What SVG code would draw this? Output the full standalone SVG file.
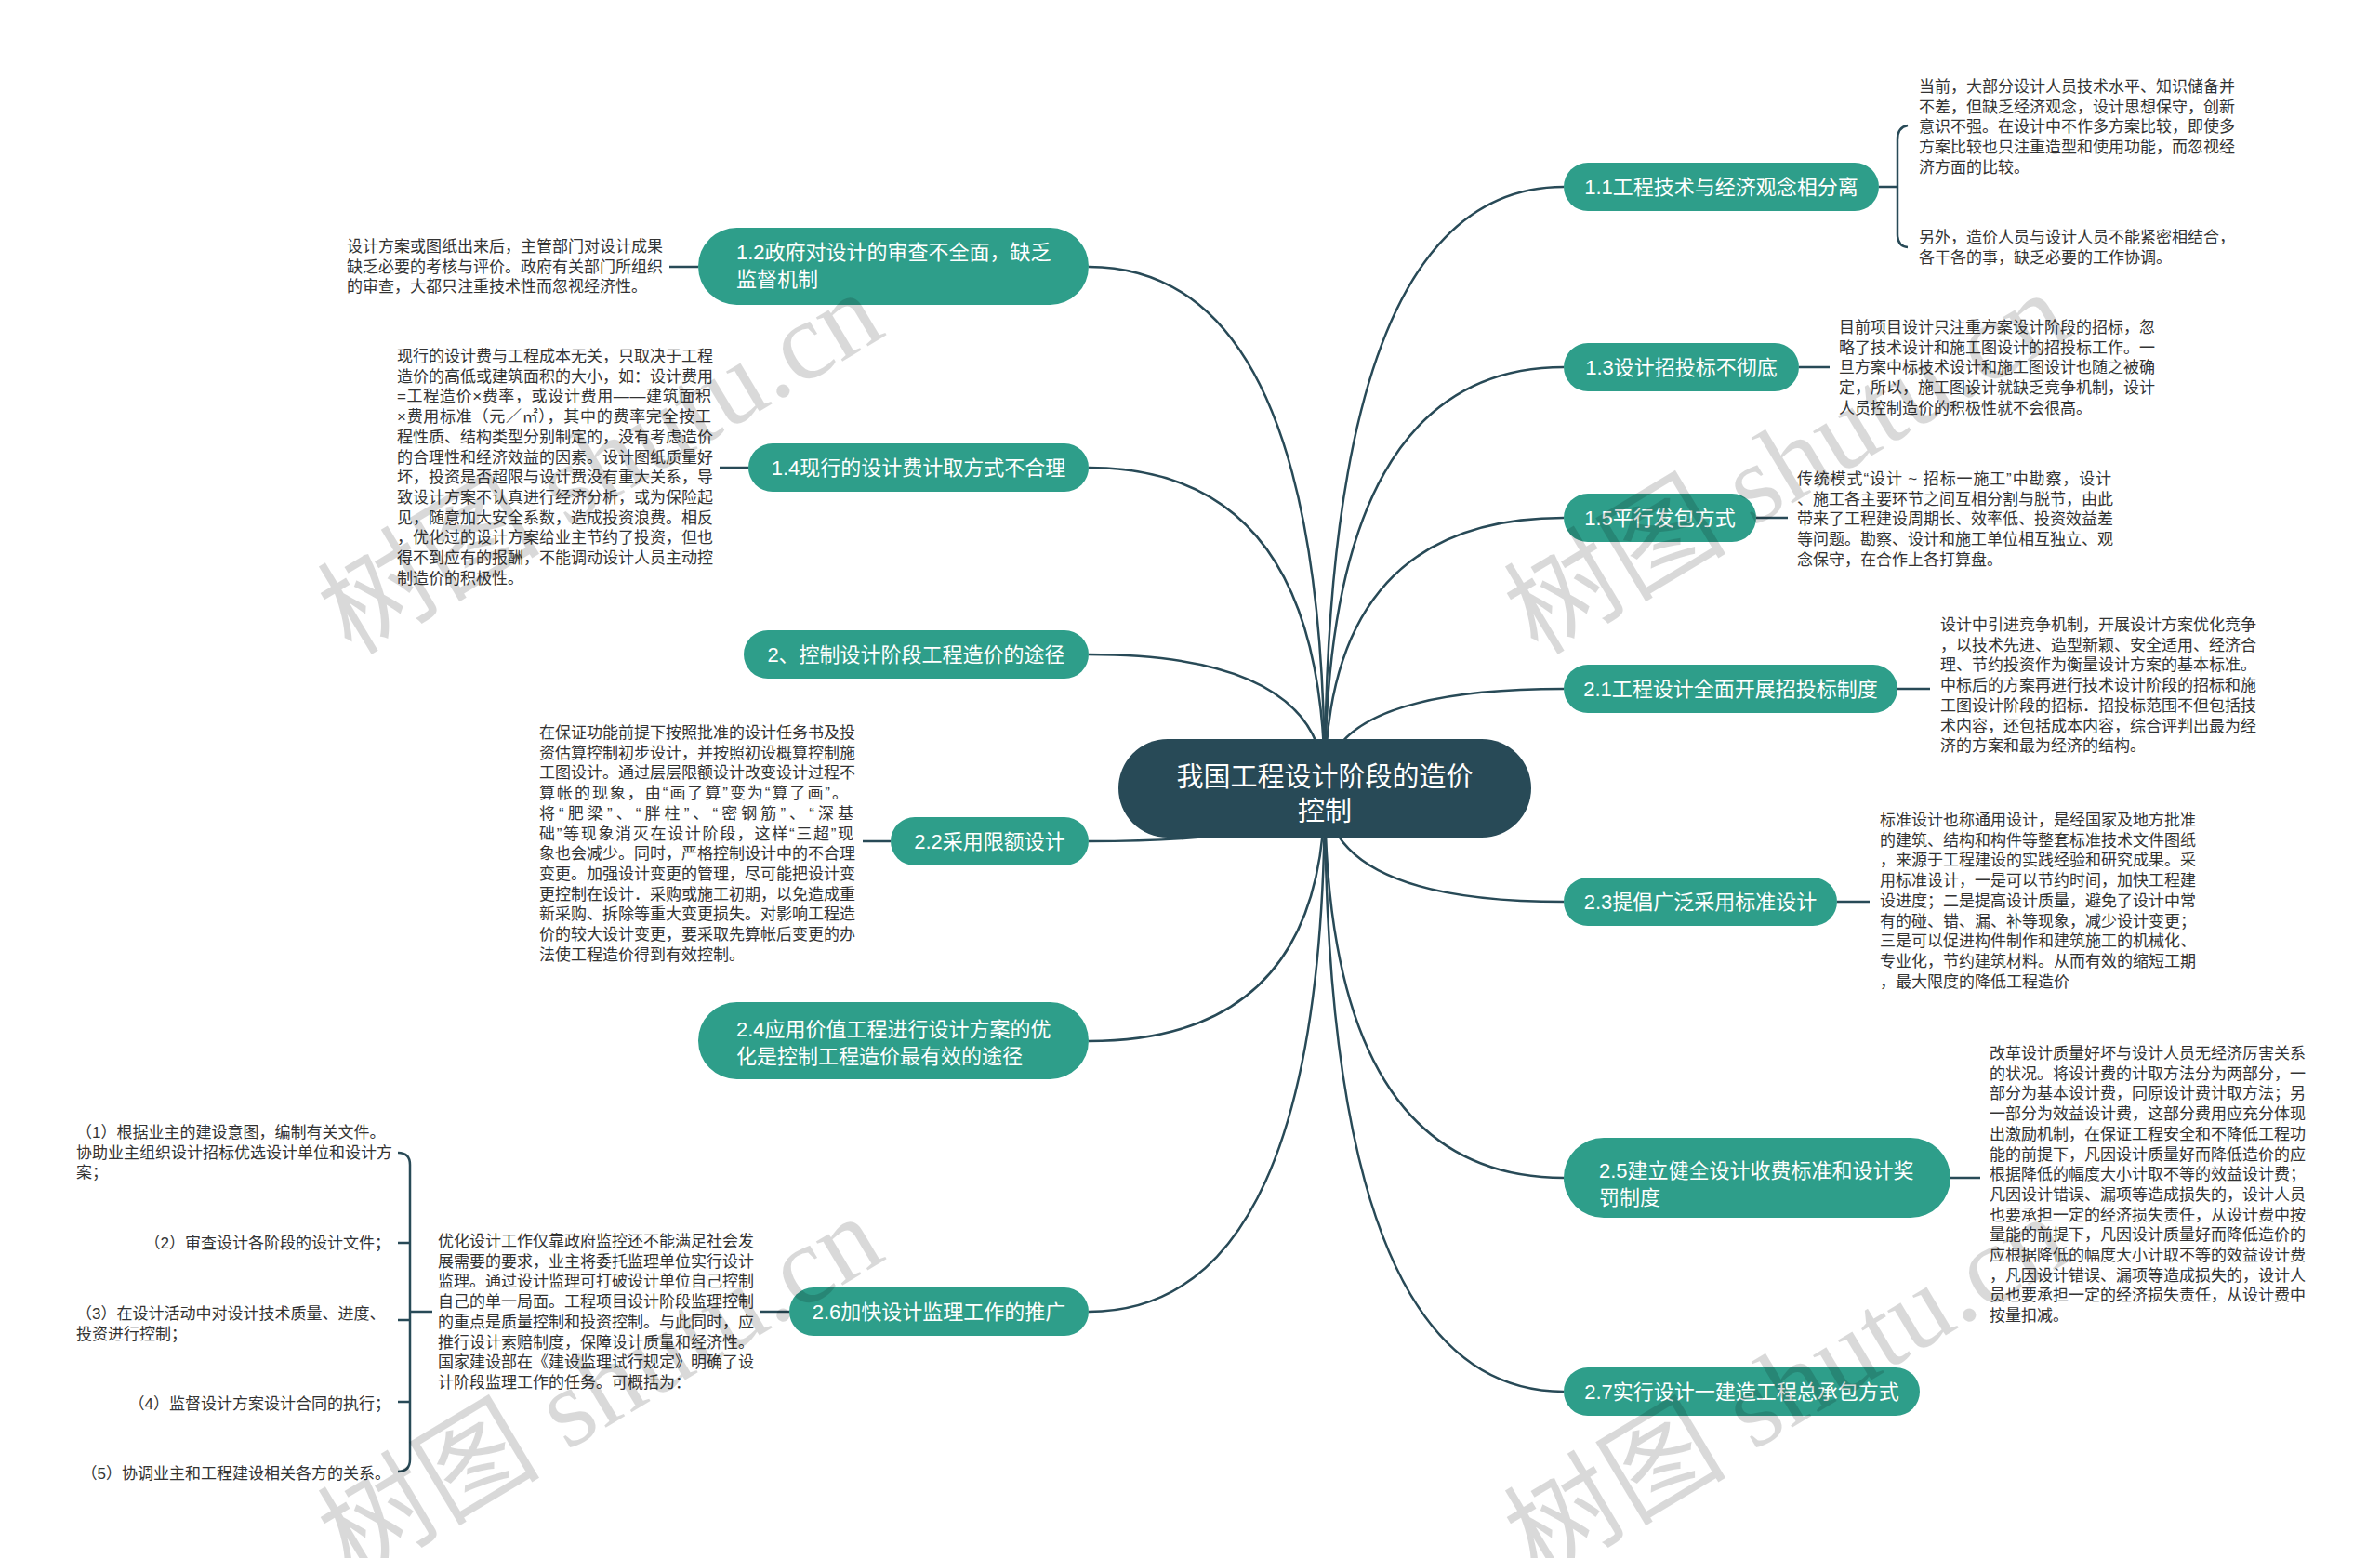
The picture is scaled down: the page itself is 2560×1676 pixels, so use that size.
<svg xmlns="http://www.w3.org/2000/svg" width="2560" height="1676" viewBox="0 0 2560 1676">
<style>
text{font-family:'Liberation Sans','Noto Sans CJK SC',sans-serif}
.conn{fill:none;stroke:#284a57;stroke-width:2.5}
.br rect{fill:#2e9e8a}
.br text{fill:#fff;font-size:22px}
.c{text-anchor:middle}
.leaf{fill:#333;font-size:17px}
.root rect{fill:#284a57}
.root text{fill:#fff;font-size:29px;text-anchor:middle}
.wm{font-family:'Liberation Serif','Noto Sans CJK SC',serif;font-size:120px;fill:#000;fill-opacity:0.15}
</style>
<rect width="2560" height="1676" fill="#fff"/>
<g id="connectors">
<path class="conn" d="M1425,848 Q1425,201 1682,201"/>
<path class="conn" d="M1425,848 Q1425,395 1682,395"/>
<path class="conn" d="M1425,848 Q1425,557 1682,557"/>
<path class="conn" d="M1425,848 Q1425,741 1682,741"/>
<path class="conn" d="M1425,848 Q1425,970 1682,970"/>
<path class="conn" d="M1425,848 Q1425,1267 1682,1267"/>
<path class="conn" d="M1425,848 Q1425,1497 1682,1497"/>
<path class="conn" d="M1425,848 Q1425,287 1171,287"/>
<path class="conn" d="M1425,848 Q1425,503 1171,503"/>
<path class="conn" d="M1425,848 Q1425,704 1171,704"/>
<path class="conn" d="M1425,848 Q1425,905 1171,905"/>
<path class="conn" d="M1425,848 Q1425,1120 1171,1120"/>
<path class="conn" d="M1425,848 Q1425,1411 1171,1411"/>
<path class="conn" d="M2021,201 H2041 M2052,135 Q2041,137 2041,150 V252 Q2041,265 2052,266"/>
<path class="conn" d="M1935,395 H1968"/>
<path class="conn" d="M1889,557 H1923"/>
<path class="conn" d="M2041,741 H2076"/>
<path class="conn" d="M1976,970 H2011"/>
<path class="conn" d="M2098,1267 H2130"/>
<path class="conn" d="M751,287 H720"/>
<path class="conn" d="M805,503 H774"/>
<path class="conn" d="M958,905 H928"/>
<path class="conn" d="M849,1411 H818"/>
<path class="conn" d="M465,1411 H441 M428,1240 Q441,1240 441,1253 V1570 Q441,1583 428,1583 M428,1337 H441 M428,1420 H441 M428,1508 H441"/>
</g>
<g id="root" class="root">
<rect x="1203" y="795" width="444" height="106" rx="53"/>
<text x="1425" y="846">我国工程设计阶段的造价</text>
<text x="1425" y="883">控制</text>
</g>
<g id="n11" class="br"><rect x="1682" y="175" width="339" height="52" rx="26"/><text class="c" x="1851.5" y="209">1.1工程技术与经济观念相分离</text></g>
<g id="n13" class="br"><rect x="1682" y="369" width="253" height="52" rx="26"/><text class="c" x="1808.5" y="403">1.3设计招投标不彻底</text></g>
<g id="n15" class="br"><rect x="1682" y="531" width="207" height="52" rx="26"/><text class="c" x="1785.5" y="565">1.5平行发包方式</text></g>
<g id="n21" class="br"><rect x="1682" y="715" width="359" height="52" rx="26"/><text class="c" x="1861.5" y="749">2.1工程设计全面开展招投标制度</text></g>
<g id="n23" class="br"><rect x="1682" y="944" width="294" height="52" rx="26"/><text class="c" x="1829" y="978">2.3提倡广泛采用标准设计</text></g>
<g id="n25" class="br"><rect x="1682" y="1224" width="416" height="86" rx="43"/><text x="1720" y="1267">2.5建立健全设计收费标准和设计奖</text><text x="1720" y="1296">罚制度</text></g>
<g id="n27" class="br"><rect x="1682" y="1471" width="383" height="52" rx="26"/><text class="c" x="1873.5" y="1505">2.7实行设计一建造工程总承包方式</text></g>
<g id="n12" class="br"><rect x="751" y="245" width="420" height="83" rx="41.5"/><text x="792" y="279">1.2政府对设计的审查不全面，缺乏</text><text x="792" y="308">监督机制</text></g>
<g id="n14" class="br"><rect x="805" y="477" width="366" height="52" rx="26"/><text class="c" x="988" y="511">1.4现行的设计费计取方式不合理</text></g>
<g id="n2" class="br"><rect x="800" y="678" width="371" height="52" rx="26"/><text class="c" x="985.5" y="712">2、控制设计阶段工程造价的途径</text></g>
<g id="n22" class="br"><rect x="958" y="879" width="213" height="52" rx="26"/><text class="c" x="1064.5" y="913">2.2采用限额设计</text></g>
<g id="n24" class="br"><rect x="751" y="1078" width="420" height="83" rx="41.5"/><text x="792" y="1115">2.4应用价值工程进行设计方案的优</text><text x="792" y="1144">化是控制工程造价最有效的途径</text></g>
<g id="n26" class="br"><rect x="849" y="1385" width="322" height="52" rx="26"/><text class="c" x="1010" y="1419">2.6加快设计监理工作的推广</text></g>
<g id="t11a"><text class="leaf"><tspan x="2064" y="99">当前，大部分设计人员技术水平、知识储备并</tspan><tspan x="2064" y="120.7">不差，但缺乏经济观念，设计思想保守，创新</tspan><tspan x="2064" y="142.4">意识不强。在设计中不作多方案比较，即使多</tspan><tspan x="2064" y="164.1">方案比较也只注重造型和使用功能，而忽视经</tspan><tspan x="2064" y="185.8">济方面的比较。</tspan></text></g>
<g id="t11b"><text class="leaf"><tspan x="2064" y="261">另外，造价人员与设计人员不能紧密相结合，</tspan><tspan x="2064" y="282.7">各干各的事，缺乏必要的工作协调。</tspan></text></g>
<g id="t13"><text class="leaf"><tspan x="1978" y="358">目前项目设计只注重方案设计阶段的招标，忽</tspan><tspan x="1978" y="379.7">略了技术设计和施工图设计的招投标工作。一</tspan><tspan x="1978" y="401.4">旦方案中标技术设计和施工图设计也随之被确</tspan><tspan x="1978" y="423.1">定，所以，施工图设计就缺乏竞争机制，设计</tspan><tspan x="1978" y="444.8">人员控制造价的积极性就不会很高。</tspan></text></g>
<g id="t15"><text class="leaf"><tspan x="1933" y="521" textLength="338" lengthAdjust="spacing">传统模式“设计 ~ 招标一施工”中勘察，设计</tspan><tspan x="1933" y="542.7">、施工各主要环节之间互相分割与脱节，由此</tspan><tspan x="1933" y="564.4">带来了工程建设周期长、效率低、投资效益差</tspan><tspan x="1933" y="586.1">等问题。勘察、设计和施工单位相互独立、观</tspan><tspan x="1933" y="607.8">念保守，在合作上各打算盘。</tspan></text></g>
<g id="t21"><text class="leaf"><tspan x="2087" y="678">设计中引进竞争机制，开展设计方案优化竞争</tspan><tspan x="2087" y="699.7">，以技术先进、造型新颖、安全适用、经济合</tspan><tspan x="2087" y="721.4">理、节约投资作为衡量设计方案的基本标准。</tspan><tspan x="2087" y="743.1">中标后的方案再进行技术设计阶段的招标和施</tspan><tspan x="2087" y="764.8">工图设计阶段的招标．招投标范围不但包括技</tspan><tspan x="2087" y="786.5">术内容，还包括成本内容，综合评判出最为经</tspan><tspan x="2087" y="808.2">济的方案和最为经济的结构。</tspan></text></g>
<g id="t23"><text class="leaf"><tspan x="2022" y="888">标准设计也称通用设计，是经国家及地方批准</tspan><tspan x="2022" y="909.7">的建筑、结构和构件等整套标准技术文件图纸</tspan><tspan x="2022" y="931.4">，来源于工程建设的实践经验和研究成果。采</tspan><tspan x="2022" y="953.1">用标准设计，一是可以节约时间，加快工程建</tspan><tspan x="2022" y="974.8">设进度；二是提高设计质量，避免了设计中常</tspan><tspan x="2022" y="996.5">有的碰、错、漏、补等现象，减少设计变更；</tspan><tspan x="2022" y="1018.2">三是可以促进构件制作和建筑施工的机械化、</tspan><tspan x="2022" y="1039.9">专业化，节约建筑材料。从而有效的缩短工期</tspan><tspan x="2022" y="1061.6">，最大限度的降低工程造价</tspan></text></g>
<g id="t25"><text class="leaf"><tspan x="2140" y="1139">改革设计质量好坏与设计人员无经济厉害关系</tspan><tspan x="2140" y="1160.7">的状况。将设计费的计取方法分为两部分，一</tspan><tspan x="2140" y="1182.4">部分为基本设计费，同原设计费计取方法；另</tspan><tspan x="2140" y="1204.1">一部分为效益设计费，这部分费用应充分体现</tspan><tspan x="2140" y="1225.8">出激励机制，在保证工程安全和不降低工程功</tspan><tspan x="2140" y="1247.5">能的前提下，凡因设计质量好而降低造价的应</tspan><tspan x="2140" y="1269.2">根据降低的幅度大小计取不等的效益设计费；</tspan><tspan x="2140" y="1290.9">凡因设计错误、漏项等造成损失的，设计人员</tspan><tspan x="2140" y="1312.6">也要承担一定的经济损失责任，从设计费中按</tspan><tspan x="2140" y="1334.3">量能的前提下，凡因设计质量好而降低造价的</tspan><tspan x="2140" y="1356">应根据降低的幅度大小计取不等的效益设计费</tspan><tspan x="2140" y="1377.7">，凡因设计错误、漏项等造成损失的，设计人</tspan><tspan x="2140" y="1399.4">员也要承担一定的经济损失责任，从设计费中</tspan><tspan x="2140" y="1421.1">按量扣减。</tspan></text></g>
<g id="t12"><text class="leaf"><tspan x="373" y="271">设计方案或图纸出来后，主管部门对设计成果</tspan><tspan x="373" y="292.7">缺乏必要的考核与评价。政府有关部门所组织</tspan><tspan x="373" y="314.4">的审查，大都只注重技术性而忽视经济性。</tspan></text></g>
<g id="t14"><text class="leaf"><tspan x="427" y="389">现行的设计费与工程成本无关，只取决于工程</tspan><tspan x="427" y="410.7">造价的高低或建筑面积的大小，如：设计费用</tspan><tspan x="427" y="432.4" textLength="338" lengthAdjust="spacing">=工程造价×费率，或设计费用——建筑面积</tspan><tspan x="427" y="454.1" textLength="338" lengthAdjust="spacing">×费用标准（元／㎡），其中的费率完全按工</tspan><tspan x="427" y="475.8">程性质、结构类型分别制定的，没有考虑造价</tspan><tspan x="427" y="497.5">的合理性和经济效益的因素。设计图纸质量好</tspan><tspan x="427" y="519.2">坏，投资是否超限与设计费没有重大关系，导</tspan><tspan x="427" y="540.9">致设计方案不认真进行经济分析，或为保险起</tspan><tspan x="427" y="562.6">见，随意加大安全系数，造成投资浪费。相反</tspan><tspan x="427" y="584.3">，优化过的设计方案给业主节约了投资，但也</tspan><tspan x="427" y="606">得不到应有的报酬，不能调动设计人员主动控</tspan><tspan x="427" y="627.7">制造价的积极性。</tspan></text></g>
<g id="t22"><text class="leaf"><tspan x="580" y="794">在保证功能前提下按照批准的设计任务书及投</tspan><tspan x="580" y="815.7">资估算控制初步设计，并按照初设概算控制施</tspan><tspan x="580" y="837.4">工图设计。通过层层限额设计改变设计过程不</tspan><tspan x="580" y="859.1" textLength="332" lengthAdjust="spacing">算帐的现象，由“画了算”变为“算了画”。</tspan><tspan x="580" y="880.8" textLength="338" lengthAdjust="spacing">将“肥梁”、“胖柱”、“密钢筋”、“深基</tspan><tspan x="580" y="902.5" textLength="338" lengthAdjust="spacing">础”等现象消灭在设计阶段，这样“三超”现</tspan><tspan x="580" y="924.2">象也会减少。同时，严格控制设计中的不合理</tspan><tspan x="580" y="945.9">变更。加强设计变更的管理，尽可能把设计变</tspan><tspan x="580" y="967.6">更控制在设计．采购或施工初期，以免造成重</tspan><tspan x="580" y="989.3">新采购、拆除等重大变更损失。对影响工程造</tspan><tspan x="580" y="1011">价的较大设计变更，要采取先算帐后变更的办</tspan><tspan x="580" y="1032.7">法使工程造价得到有效控制。</tspan></text></g>
<g id="t26"><text class="leaf"><tspan x="471" y="1341">优化设计工作仅靠政府监控还不能满足社会发</tspan><tspan x="471" y="1362.7">展需要的要求，业主将委托监理单位实行设计</tspan><tspan x="471" y="1384.4">监理。通过设计监理可打破设计单位自己控制</tspan><tspan x="471" y="1406.1">自己的单一局面。工程项目设计阶段监理控制</tspan><tspan x="471" y="1427.8">的重点是质量控制和投资控制。与此同时，应</tspan><tspan x="471" y="1449.5">推行设计索赔制度，保障设计质量和经济性。</tspan><tspan x="471" y="1471.2">国家建设部在《建设监理试行规定》明确了设</tspan><tspan x="471" y="1492.9">计阶段监理工作的任务。可概括为：</tspan></text></g>
<g id="s1"><text class="leaf"><tspan x="82" y="1224">（1）根据业主的建设意图，编制有关文件。</tspan><tspan x="82" y="1245.7">协助业主组织设计招标优选设计单位和设计方</tspan><tspan x="82" y="1267.4">案；</tspan></text></g>
<g id="s2"><text class="leaf" text-anchor="end" x="420" y="1343">（2）审查设计各阶段的设计文件；</text></g>
<g id="s3"><text class="leaf"><tspan x="82" y="1419">（3）在设计活动中对设计技术质量、进度、</tspan><tspan x="82" y="1440.7">投资进行控制；</tspan></text></g>
<g id="s4"><text class="leaf" text-anchor="end" x="420" y="1516">（4）监督设计方案设计合同的执行；</text></g>
<g id="s5"><text class="leaf" text-anchor="end" x="420" y="1591">（5）协调业主和工程建设相关各方的关系。</text></g>
<g id="watermarks">
<text class="wm" transform="translate(378,706) rotate(-31)">树图 shutu.cn</text>
<text class="wm" transform="translate(1654,706) rotate(-31)">树图 shutu.cn</text>
<text class="wm" transform="translate(378,1700) rotate(-31)">树图 shutu.cn</text>
<text class="wm" transform="translate(1654,1700) rotate(-31)">树图 shutu.cn</text>
</g>
</svg>
